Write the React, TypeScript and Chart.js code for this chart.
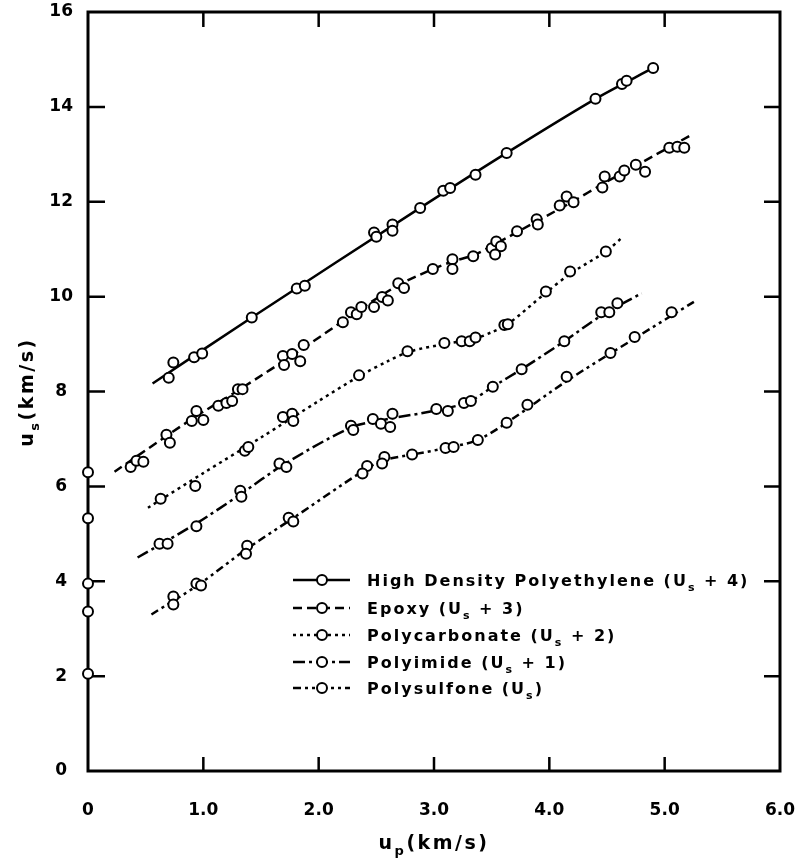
import React, { useEffect, useRef } from 'react';
import { Chart, registerables } from 'chart.js';

Chart.register(...registerables);

// ---------- data ----------
const X_TICK_LABELS = ['0', '1.0', '2.0', '3.0', '4.0', '5.0', '6.0'];
const X_TICK_VALUES = [0, 1, 2, 3, 4, 5, 6];
const Y_TICK_VALUES = [0, 2, 4, 6, 8, 10, 12, 14, 16];
const INNER_TICKS_X = [1, 2, 3, 4, 5];
const INNER_TICKS_Y = [2, 4, 6, 8, 10, 12, 14];

const SERIES_LABELS = [
  'High Density Polyethylene (U_s + 4)',
  'Epoxy (U_s + 3)',
  'Polycarbonate (U_s + 2)',
  'Polyimide (U_s + 1)',
  'Polysulfone (U_s)',
];

const SERIES_DASHES: number[][] = [[], [9, 5], [3, 4], [12, 4, 3, 4], [8, 4, 3, 4, 3, 4]];

const hdpePoints = [
  [0.70, 8.29], [0.74, 8.61], [0.92, 8.72], [0.99, 8.80], [1.42, 9.56], [1.81, 10.17],
  [1.88, 10.23], [2.48, 11.35], [2.50, 11.26], [2.64, 11.52], [2.64, 11.39], [2.88, 11.87],
  [3.08, 12.23], [3.14, 12.29], [3.36, 12.57], [3.63, 13.03], [4.40, 14.17], [4.63, 14.48],
  [4.67, 14.55], [4.90, 14.82],
];
const hdpeFit = [[0.56, 8.17], [1.42, 9.56], [2.88, 11.87], [3.63, 13.03], [4.40, 14.17], [4.90, 14.82]];

const epoxyPoints = [
  [0.37, 6.41], [0.42, 6.54], [0.48, 6.52], [0.68, 7.09], [0.71, 6.92], [0.90, 7.38],
  [0.94, 7.59], [1.00, 7.40], [1.13, 7.70], [1.20, 7.76], [1.25, 7.80], [1.30, 8.05],
  [1.34, 8.05], [1.69, 8.75], [1.77, 8.79], [1.84, 8.64], [1.70, 8.56], [1.87, 8.98],
  [2.21, 9.46], [2.28, 9.67], [2.33, 9.63], [2.37, 9.78], [2.48, 9.78], [2.55, 9.99],
  [2.60, 9.92], [2.69, 10.28], [2.74, 10.18], [2.99, 10.58], [3.16, 10.79], [3.16, 10.58],
  [3.34, 10.85], [3.50, 11.02], [3.54, 11.16], [3.58, 11.06], [3.53, 10.89], [3.72, 11.38],
  [3.89, 11.63], [3.90, 11.52], [4.09, 11.92], [4.15, 12.11], [4.21, 11.99], [4.46, 12.30],
  [4.48, 12.53], [4.61, 12.53], [4.65, 12.66], [4.75, 12.78], [4.83, 12.63], [5.04, 13.14],
  [5.11, 13.16], [5.17, 13.14],
];
const epoxyFit = [
  [0.23, 6.31], [0.90, 7.42], [1.30, 8.02], [1.87, 8.92], [2.37, 9.75], [2.69, 10.24],
  [2.99, 10.58], [3.16, 10.74], [3.34, 10.87], [3.54, 11.12], [3.90, 11.60], [4.20, 12.00],
  [4.48, 12.40], [4.75, 12.76], [5.24, 13.42],
];

const pcPoints = [
  [0.63, 5.74], [0.93, 6.01], [1.36, 6.75], [1.39, 6.83], [1.69, 7.46], [1.77, 7.53],
  [1.78, 7.38], [2.35, 8.34], [2.77, 8.85], [3.09, 9.02], [3.24, 9.06], [3.31, 9.06],
  [3.36, 9.14], [3.61, 9.40], [3.64, 9.42], [3.97, 10.11], [4.18, 10.53], [4.49, 10.95],
];
const pcFit = [
  [0.52, 5.55], [1.00, 6.28], [1.50, 7.03], [2.00, 7.80], [2.35, 8.32], [2.60, 8.64],
  [2.80, 8.85], [3.09, 9.00], [3.36, 9.12], [3.50, 9.25], [3.64, 9.42], [3.97, 10.08],
  [4.18, 10.48], [4.49, 10.95], [4.62, 11.22],
];

const piPoints = [
  [0.62, 4.79], [0.69, 4.79], [0.94, 5.16], [1.32, 5.91], [1.33, 5.78], [1.66, 6.48],
  [1.72, 6.41], [2.28, 7.28], [2.30, 7.19], [2.47, 7.42], [2.54, 7.32], [2.62, 7.25],
  [2.64, 7.53], [3.02, 7.63], [3.12, 7.59], [3.26, 7.76], [3.32, 7.80], [3.51, 8.10],
  [3.76, 8.47], [4.13, 9.06], [4.45, 9.67], [4.52, 9.67], [4.59, 9.86],
];
const piFit = [
  [0.43, 4.50], [0.94, 5.22], [1.32, 5.83], [1.69, 6.45], [2.28, 7.24], [2.60, 7.42],
  [3.02, 7.60], [3.30, 7.78], [3.51, 8.10], [3.76, 8.47], [4.13, 9.06], [4.45, 9.60],
  [4.80, 10.07],
];

const psPoints = [
  [0.74, 3.68], [0.74, 3.51], [0.94, 3.95], [0.98, 3.91], [1.38, 4.75], [1.37, 4.58],
  [1.74, 5.34], [1.78, 5.26], [2.42, 6.43], [2.38, 6.27], [2.57, 6.62], [2.55, 6.48],
  [2.81, 6.67], [3.10, 6.81], [3.17, 6.83], [3.38, 6.98], [3.63, 7.34], [3.81, 7.72],
  [4.15, 8.31], [4.53, 8.81], [4.74, 9.15], [5.06, 9.67],
];
const psFit = [
  [0.55, 3.30], [0.96, 3.93], [1.37, 4.67], [1.76, 5.30], [2.40, 6.35], [2.56, 6.55],
  [2.81, 6.67], [3.13, 6.82], [3.38, 6.98], [3.63, 7.34], [4.15, 8.22], [4.74, 9.12],
  [5.26, 9.90],
];

const interceptPoints = [[0, 6.30], [0, 5.33], [0, 3.95], [0, 3.36], [0, 2.05]];

const SERIES_POINTS = [hdpePoints, epoxyPoints, pcPoints, piPoints, psPoints];
const SERIES_FITS = [hdpeFit, epoxyFit, pcFit, piFit, psFit];

const X_TITLE = 'u_p(km/s)';
const Y_TITLE = 'u_s(km/s)';

// ---------- helpers ----------
const FONT = '"DejaVu Sans", sans-serif';
type Part = { t: string; sub: boolean };

function parseRich(s: string): Part[] {
  const parts: Part[] = [];
  let buf = '';
  for (let i = 0; i < s.length; i++) {
    if (s[i] === '_' && i + 1 < s.length) {
      if (buf) parts.push({ t: buf, sub: false });
      buf = '';
      parts.push({ t: s[i + 1], sub: true });
      i++;
    } else buf += s[i];
  }
  if (buf) parts.push({ t: buf, sub: false });
  return parts;
}

function drawRich(ctx: any, s: string, x: number, y: number, size: number, spacing: number, align: 'left' | 'center') {
  const parts = parseRich(s);
  const subSize = Math.round(size * 0.68);
  ctx.save();
  ctx.fillStyle = '#000';
  ctx.textAlign = 'left';
  ctx.textBaseline = 'alphabetic';
  try { ctx.letterSpacing = spacing + 'px'; } catch (e) { /* ignore */ }
  const widths = parts.map((p) => {
    ctx.font = `bold ${p.sub ? subSize : size}px ${FONT}`;
    return ctx.measureText(p.t).width;
  });
  const total = widths.reduce((a, b) => a + b, 0);
  let cx = align === 'center' ? x - total / 2 : x;
  parts.forEach((p, i) => {
    ctx.font = `bold ${p.sub ? subSize : size}px ${FONT}`;
    ctx.fillText(p.t, cx, p.sub ? y + size * 0.32 : y);
    cx += widths[i];
  });
  ctx.restore();
}

const toXY = (arr: number[][]) => arr.map(([x, y]) => ({ x, y }));

const zeroPad = (s: any) => {
  s.paddingLeft = 0;
  s.paddingRight = 0;
  s.paddingTop = 0;
  s.paddingBottom = 0;
};

const framePlugin = {
  id: 'frame',
  beforeDatasetsDraw(chart: any) {
    const { ctx, chartArea: a, scales } = chart;
    ctx.save();
    ctx.strokeStyle = '#000';
    ctx.lineWidth = 3;
    ctx.strokeRect(a.left, a.top, a.right - a.left, a.bottom - a.top);
    ctx.lineWidth = 2.5;
    ctx.beginPath();
    INNER_TICKS_X.forEach((v) => {
      const px = scales.x.getPixelForValue(v);
      ctx.moveTo(px, a.bottom);
      ctx.lineTo(px, a.bottom - 14);
      ctx.moveTo(px, a.top);
      ctx.lineTo(px, a.top + 15);
    });
    INNER_TICKS_Y.forEach((v) => {
      const py = scales.y.getPixelForValue(v);
      ctx.moveTo(a.left, py);
      ctx.lineTo(a.left + 17, py);
      ctx.moveTo(a.right, py);
      ctx.lineTo(a.right - 16, py);
    });
    ctx.stroke();
    ctx.restore();
  },
};

const decorPlugin = {
  id: 'decor',
  afterDraw(chart: any) {
    const { ctx, chartArea: a } = chart;
    // axis titles
    drawRich(ctx, X_TITLE, (a.left + a.right) / 2, 849, 19, 2.5, 'center');
    ctx.save();
    ctx.translate(33, 392);
    ctx.rotate(-Math.PI / 2);
    drawRich(ctx, Y_TITLE, 0, 0, 19, 2.5, 'center');
    ctx.restore();
    // legend
    const rows = [580, 608, 635, 662, 688];
    SERIES_LABELS.forEach((label, i) => {
      const ry = rows[i];
      ctx.save();
      ctx.strokeStyle = '#000';
      ctx.lineWidth = 2.5;
      ctx.setLineDash(SERIES_DASHES[i]);
      ctx.beginPath();
      ctx.moveTo(293, ry);
      ctx.lineTo(350, ry);
      ctx.stroke();
      ctx.setLineDash([]);
      ctx.beginPath();
      ctx.arc(322, ry, 5, 0, Math.PI * 2);
      ctx.fillStyle = '#fff';
      ctx.fill();
      ctx.lineWidth = 2;
      ctx.stroke();
      ctx.restore();
      drawRich(ctx, label, 367, ry + 6, 16, 2, 'left');
    });
  },
};

export default function App() {
  const ref = useRef<HTMLCanvasElement>(null);
  useEffect(() => {
    if (!ref.current) return;
    const datasets: any[] = [];
    SERIES_LABELS.forEach((label, i) => {
      datasets.push({
        label: label + ' fit',
        data: toXY(SERIES_FITS[i]),
        showLine: true,
        borderColor: '#000',
        borderWidth: 2.5,
        borderDash: SERIES_DASHES[i],
        pointRadius: 0,
        tension: 0.3,
        order: 2,
      });
      datasets.push({
        label,
        data: toXY(SERIES_POINTS[i]),
        showLine: false,
        pointRadius: 5,
        pointBorderWidth: 2,
        pointBorderColor: '#000',
        pointBackgroundColor: '#fff',
        order: 1,
      });
    });
    datasets.push({
      label: 'intercepts',
      data: toXY(interceptPoints),
      showLine: false,
      pointRadius: 5,
      pointBorderWidth: 2,
      pointBorderColor: '#000',
      pointBackgroundColor: '#fff',
      clip: false,
      order: 0,
    });

    const chart = new Chart(ref.current, {
      type: 'scatter',
      data: { datasets },
      options: {
        animation: false,
        responsive: false,
        devicePixelRatio: 1,
        layout: { padding: { left: 0, top: 12, right: 20, bottom: 0 } },
        plugins: { legend: { display: false }, tooltip: { enabled: false } },
        scales: {
          x: {
            type: 'linear',
            min: 0,
            max: 6,
            afterFit: (s: any) => { s.height = 94; zeroPad(s); },
            afterBuildTicks: (s: any) => { s.ticks = X_TICK_VALUES.map((v) => ({ value: v })); },
            grid: { display: false, drawTicks: false },
            border: { display: false },
            ticks: {
              padding: 29,
              color: '#000',
              font: { family: 'DejaVu Sans', weight: 'bold', size: 17 },
              callback: (v: any) => X_TICK_LABELS[X_TICK_VALUES.indexOf(Number(v))] ?? '',
              maxRotation: 0,
              autoSkip: false,
            },
          },
          y: {
            type: 'linear',
            min: 0,
            max: 16,
            afterFit: (s: any) => { s.width = 88; zeroPad(s); },
            afterBuildTicks: (s: any) => { s.ticks = Y_TICK_VALUES.map((v) => ({ value: v })); },
            grid: { display: false, drawTicks: false },
            border: { display: false },
            ticks: {
              padding: 15,
              crossAlign: 'center',
              color: '#000',
              font: { family: 'DejaVu Sans', weight: 'bold', size: 17 },
              autoSkip: false,
            },
          },
        },
      },
      plugins: [framePlugin, decorPlugin],
    });
    return () => chart.destroy();
  }, []);

  return (
    <div style={{ position: 'absolute', left: 0, top: 0, width: 800, height: 865, background: '#fff' }}>
      <canvas ref={ref} width={800} height={865} style={{ display: 'block' }} />
    </div>
  );
}
